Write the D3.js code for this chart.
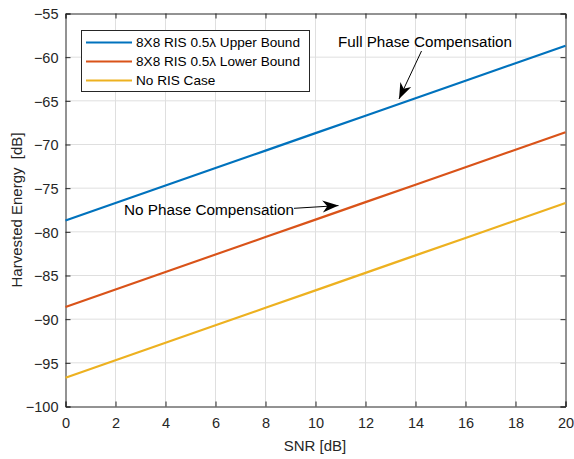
<!DOCTYPE html>
<html><head><meta charset="utf-8">
<script src="https://d3js.org/d3.v7.min.js"></script>
<style>body{margin:0;background:#fff}svg{display:block}text{font-family:"Liberation Sans",Arial,sans-serif}</style>
</head><body>
<svg id="c" width="574" height="459"></svg>
<script>
const snr = [0,2,4,6,8,10,12,14,16,18,20];
const upper = [-78.7,-76.7,-74.7,-72.7,-70.7,-68.7,-66.7,-64.7,-62.7,-60.7,-58.7];
const lower = [-88.6,-86.6,-84.6,-82.6,-80.6,-78.6,-76.6,-74.6,-72.6,-70.6,-68.6];
const noRis = [-96.7,-94.7,-92.7,-90.7,-88.7,-86.7,-84.7,-82.7,-80.7,-78.7,-76.7];
const seriesNames = ["8X8 RIS 0.5\u03bb Upper Bound","8X8 RIS 0.5\u03bb Lower Bound","No RIS Case"];
const colors = ["#0072BD","#D95319","#EDB120"];
const xTicks = [0,2,4,6,8,10,12,14,16,18,20];
const yTicks = [-100,-95,-90,-85,-80,-75,-70,-65,-60,-55];

const svg = d3.select("#c");
const L=65.5,R=565.5,T=13.5,B=406.5;
const x = d3.scaleLinear().domain([0,20]).range([L,R]);
const y = d3.scaleLinear().domain([-100,-55]).range([B,T]);
const ax="#262626";

// grid
svg.append("g").selectAll("line").data(xTicks.slice(1,-1)).join("line")
  .attr("x1",d=>x(d)).attr("x2",d=>x(d)).attr("y1",T).attr("y2",B)
  .attr("stroke","#dfdfdf").attr("stroke-width",1);
svg.append("g").selectAll("line").data(yTicks.slice(1,-1)).join("line")
  .attr("y1",d=>y(d)).attr("y2",d=>y(d)).attr("x1",L).attr("x2",R)
  .attr("stroke","#dfdfdf").attr("stroke-width",1);

// axes
const xa = svg.append("g").attr("transform",`translate(0,${B})`)
  .call(d3.axisBottom(x).tickValues(xTicks).tickSize(-5).tickPadding(11).tickFormat(d3.format("d")));
const xt = svg.append("g").attr("transform",`translate(0,${T})`)
  .call(d3.axisTop(x).tickValues(xTicks).tickSize(-5).tickFormat(""));
const ya = svg.append("g").attr("transform",`translate(${L},0)`)
  .call(d3.axisLeft(y).tickValues(yTicks).tickSize(-5).tickPadding(7).tickFormat(d3.format("d")));
const yr = svg.append("g").attr("transform",`translate(${R},0)`)
  .call(d3.axisRight(y).tickValues(yTicks).tickSize(-5).tickFormat(""));
[xa,xt,ya,yr].forEach(g=>{
  g.select(".domain").attr("stroke",ax).attr("stroke-width",1);
  g.selectAll(".tick line").attr("stroke",ax);
  g.selectAll("text").attr("fill",ax).style("font-size","14.5px").style("font-family",'"Liberation Sans",Arial,sans-serif');
});
ya.selectAll("text").attr("dy","0.36em");

// lines
const line = d3.line().x((d,i)=>x(snr[i])).y(d=>y(d));
[upper,lower,noRis].forEach((s,i)=>{
  svg.append("path").datum(s).attr("d",line).attr("fill","none")
    .attr("stroke",colors[i]).attr("stroke-width",2.2);
});

// labels
svg.append("text").attr("x",315).attr("y",451).attr("text-anchor","middle")
  .attr("fill",ax).style("font-size","15px").text("SNR [dB]");
svg.append("text").attr("transform",`translate(22,${(T+B)/2}) rotate(-90)`).attr("text-anchor","middle")
  .attr("fill",ax).style("font-size","15px").style("white-space","pre").text("Harvested Energy  [dB]");

// legend
const lg = svg.append("g");
lg.append("rect").attr("x",81.5).attr("y",30.5).attr("width",228).attr("height",61)
  .attr("fill","#fff").attr("stroke",ax).attr("stroke-width",1);
seriesNames.forEach((n,i)=>{
  const yy = 42.5 + i*19;
  lg.append("line").attr("x1",86).attr("x2",132).attr("y1",yy).attr("y2",yy)
    .attr("stroke",colors[i]).attr("stroke-width",2.2);
  lg.append("text").attr("x",136).attr("y",yy).attr("dy","0.35em")
    .attr("fill","#000").style("font-size","13.6px").text(n);
});

// annotations
function arrow(x1,y1,x2,y2){
  svg.append("line").attr("x1",x1).attr("y1",y1).attr("x2",x2).attr("y2",y2)
    .attr("stroke","#000").attr("stroke-width",1);
  const a=Math.atan2(y2-y1,x2-x1), len=16, w=6;
  const bx=x2-len*Math.cos(a), by=y2-len*Math.sin(a);
  const mx=x2-len*0.7*Math.cos(a), my=y2-len*0.7*Math.sin(a);
  const px=-Math.sin(a)*w, py=Math.cos(a)*w;
  svg.append("path").attr("d",`M${x2},${y2}L${bx+px},${by+py}L${mx},${my}L${bx-px},${by-py}Z`).attr("fill","#000");
}
svg.append("text").attr("x",425).attr("y",47).attr("text-anchor","middle")
  .attr("fill","#000").style("font-size","15.2px").text("Full Phase Compensation");
arrow(421.5,51,399,99);
svg.append("text").attr("x",124).attr("y",215).attr("fill","#000")
  .style("font-size","15.3px").text("No Phase Compensation");
arrow(294,208.3,338.5,205.6);
</script>
</body></html>
